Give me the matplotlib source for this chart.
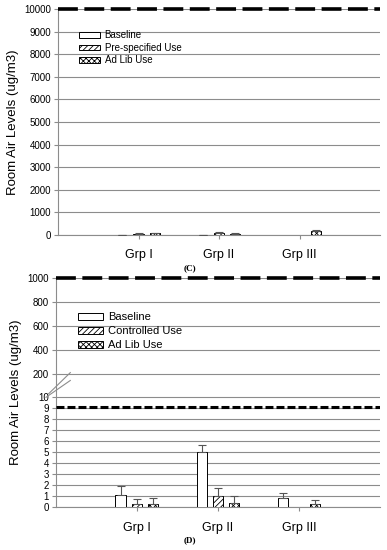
import numpy as np
import matplotlib
matplotlib.use('Agg')
import matplotlib.pyplot as plt
import matplotlib.transforms as mtransforms

plt.rcParams['font.family'] = ['Liberation Sans', 'DejaVu Sans']
plt.rcParams['hatch.linewidth'] = 0.6

groups = ['Grp I', 'Grp II', 'Grp III']

# panel C
c_names = ['Baseline', 'Pre-specified Use', 'Ad Lib Use']
c_base = [5, 5, 0]
c_base_err = [0, 0, 0]
c_pre = [25, 90, 0]
c_pre_err = [50, 30, 0]
c_adlib = [90, 60, 190]
c_adlib_err = [20, 15, 20]
c_limit = 10000

# panel D
d_names = ['Baseline', 'Controlled Use', 'Ad Lib Use']
d_base = [1.1, 5.0, 0.8]
d_base_err = [0.8, 0.7, 0.5]
d_ctrl = [0.3, 1.0, 0]
d_ctrl_err = [0.4, 0.7, 0]
d_adlib = [0.3, 0.4, 0.3]
d_adlib_err = [0.5, 0.6, 0.3]
d_limits = [1000, 9.1]

hatches = ['', '//////', 'xxxxxx']
grid_col = '#8c8c8c'

fig = plt.figure(figsize=(3.87, 5.5), dpi=100)
axC = fig.add_axes([58/387, 1-235/550, 322/387, 226/550])
axD = fig.add_axes([55.7/387, 1-507/550, 324.3/387, 229/550])

x = np.arange(1, len(groups)+1)
w = 0.125
off = 0.2


def draw_bars(ax, series, errs, names):
    handles = []
    for k, (vals, err) in enumerate(zip(series, errs)):
        xs = x + (k-1)*off
        b = ax.bar(xs, vals, w, color='white', edgecolor='black', linewidth=0.7,
                   hatch=hatches[k], label=names[k], zorder=3)
        for xi, v, e in zip(xs, vals, err):
            if v > 0 or e > 0:
                ax.errorbar(xi, v, yerr=[[0], [e]], fmt='none', ecolor='#555555',
                            elinewidth=0.8, capsize=3, capthick=0.8, zorder=4)
        handles.append(b)
    return handles


def style(ax, xpad):
    ax.set_xlim(0, 4)
    ax.set_xticks(x)
    ax.set_xticklabels(groups, fontsize=9)
    ax.tick_params(axis='x', length=3, color=grid_col, pad=xpad)
    ax.tick_params(axis='y', length=3, color=grid_col, labelsize=7, pad=2)
    for s in ['top', 'right']:
        ax.spines[s].set_visible(False)
    ax.spines['left'].set_color(grid_col)
    ax.spines['bottom'].set_color(grid_col)
    ax.spines['left'].set_linewidth(0.8)
    ax.spines['bottom'].set_linewidth(0.8)
    ax.yaxis.grid(True, color=grid_col, linewidth=0.8, zorder=0)
    ax.set_axisbelow(True)
    ax.set_ylabel('Room Air Levels (ug/m3)', fontsize=9.5)


# ---- panel C
draw_bars(axC, [c_base, c_pre, c_adlib], [c_base_err, c_pre_err, c_adlib_err], c_names)
axC.set_ylim(0, 10000)
axC.set_yticks(np.arange(0, 10001, 1000))
style(axC, 7)
axC.axhline(c_limit, color='black', linewidth=2.6, dashes=(5.5, 1.8), zorder=5, clip_on=False)
axC.yaxis.set_label_coords(-0.12, 0.5)
axC.legend(loc='upper left', bbox_to_anchor=(0.066, 0.905), frameon=False, fontsize=7,
           borderaxespad=0, borderpad=0, handlelength=2.1, handleheight=0.55,
           labelspacing=0.25, handletextpad=0.5)

# ---- panel D : broken axis via piecewise scale
src = np.array([0, 10, 200, 1000])
dst = np.array([0, 10, 12.1, 20.9])


def fwd(v):
    return np.interp(v, src, dst)


def inv(v):
    return np.interp(v, dst, src)


axD.set_yscale('function', functions=(fwd, inv))
draw_bars(axD, [d_base, d_ctrl, d_adlib], [d_base_err, d_ctrl_err, d_adlib_err], d_names)
axD.set_ylim(0, 1000)
yt = list(range(0, 11)) + [200, 400, 600, 800, 1000]
axD.set_yticks(yt)
axD.set_yticklabels([str(t) for t in yt])
style(axD, 8)
axD.axhline(d_limits[0], color='black', linewidth=2.6, dashes=(5.5, 1.8), zorder=5, clip_on=False)
axD.axhline(d_limits[1], color='black', linewidth=2.2, dashes=(2.6, 1.0), zorder=5)
axD.yaxis.set_label_coords(-0.105, 0.5)
axD.legend(loc='upper left', bbox_to_anchor=(0.069, 0.85), frameon=False, fontsize=8,
           borderaxespad=0, borderpad=0, handlelength=2.2, handleheight=0.6,
           labelspacing=0.35, handletextpad=0.5)

# break marks on the y axis
tr = mtransforms.blended_transform_factory(axD.transAxes, axD.transData)
axD.plot([-0.03, 0.045], [11, 150], transform=tr, color=grid_col, linewidth=0.8, clip_on=False, zorder=6)
axD.plot([-0.022, 0.045], [40, 215], transform=tr, color=grid_col, linewidth=0.8, clip_on=False, zorder=6)

fig.text(190/387, 1-268/550, '(C)', fontsize=6.5, family='Liberation Serif', weight='bold',
         ha='center', va='center')
fig.text(190/387, 1-540/550, '(D)', fontsize=6.5, family='Liberation Serif', weight='bold',
         ha='center', va='center')

fig.savefig('out.png', dpi=100)
